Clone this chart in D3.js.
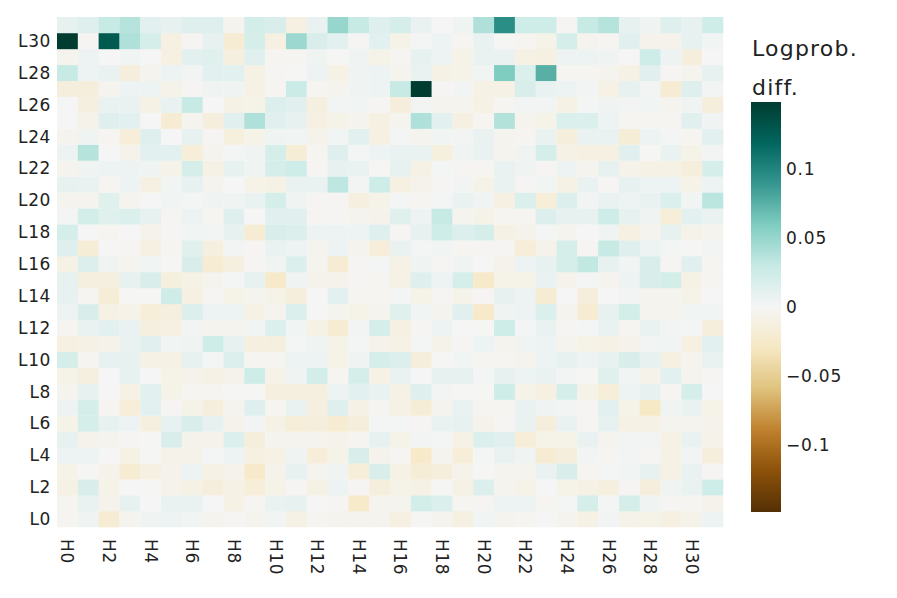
<!DOCTYPE html>
<html><head><meta charset="utf-8">
<script src="https://cdn.jsdelivr.net/npm/d3@7"></script>
<style>body{margin:0;background:#fff;} text{font-family:"DejaVu Sans",sans-serif;fill:#222;}</style>
</head><body><svg id="c" width="897" height="598"></svg>
<script>
const heads = d3.range(32).map(i => "H" + i);
const layers = d3.range(32).map(i => "L" + i);
const headTicks = d3.range(0, 32, 2).map(i => "H" + i);
const layerTicks = d3.range(0, 32, 2).map(i => "L" + i);
const cbTicks = [0.1, 0.05, 0, -0.05, -0.1];
const zmax = 0.149;
// rows: L0 .. L31, columns H0 .. H31
const z = [
[-0.003,0.004,-0.02,-0.004,0.004,0.006,0.003,-0.004,-0.002,-0.005,0.002,-0.01,-0.003,-0.004,-0.005,-0.005,-0.012,-0.001,-0.004,-0.012,0.003,-0.004,-0.003,0,-0.004,-0.01,0.002,-0.007,-0.008,-0.012,-0.007,0.005],
[-0.003,0.008,-0.006,0.01,0,0.008,0.008,0,-0.01,-0.003,0.008,0.01,0,-0.002,-0.025,-0.004,-0.004,0.022,0.017,-0.003,-0.002,0.006,0.006,-0.003,0.001,0.02,0.001,0.02,0.004,-0.002,-0.003,-0.006],
[-0.01,0.018,-0.008,0,-0.001,-0.006,-0.01,-0.015,-0.01,-0.017,-0.008,-0.002,-0.01,0.005,-0.002,-0.015,-0.008,-0.01,-0.001,-0.01,0.016,-0.004,-0.008,0,-0.008,-0.01,-0.013,-0.002,-0.015,0.004,0.007,0.025],
[-0.008,-0.001,-0.006,-0.02,-0.012,-0.006,0.006,-0.01,-0.006,-0.025,-0.006,0.01,-0.004,0.004,-0.017,0.018,-0.01,-0.018,-0.015,-0.007,-0.001,-0.005,-0.004,0.008,0.018,-0.003,0.001,0.003,0.01,-0.01,0.008,-0.002],
[0.005,0.005,0,-0.01,-0.001,-0.007,-0.007,0.001,0.006,-0.012,-0.01,0.004,-0.017,-0.008,0.018,-0.006,-0.002,-0.025,-0.004,-0.017,0.001,0.008,0.004,-0.02,-0.015,0.002,-0.003,0.002,-0.002,-0.01,0.002,-0.015],
[0.01,-0.006,-0.004,-0.002,-0.001,0.018,-0.006,-0.006,0.017,-0.015,-0.005,-0.005,-0.005,-0.006,-0.003,0.01,-0.008,0.002,0.001,-0.01,0.017,0.013,-0.017,-0.008,-0.008,0.008,-0.004,0.002,0.002,-0.01,0.008,-0.007],
[-0.008,0.02,0.01,0.005,-0.013,0.01,0.018,0.01,-0.006,0.002,-0.01,-0.017,-0.015,-0.02,-0.015,0.001,0.001,-0.002,0.008,0.01,-0.006,-0.002,0.008,-0.015,0.008,-0.002,0.01,-0.01,-0.01,-0.004,-0.004,-0.006],
[0.005,0.02,-0.003,-0.017,0.012,-0.002,-0.008,-0.015,-0.004,0.015,-0.003,0.008,-0.013,0.015,-0.01,-0.003,-0.01,-0.018,-0.005,0.008,-0.003,-0.003,0.008,0.004,0.002,-0.002,0.012,-0.008,-0.028,0.004,0.007,-0.008],
[-0.005,0.01,0,-0.01,0.012,-0.008,-0.003,-0.003,-0.001,-0.001,-0.013,-0.013,-0.013,0.006,0.012,0.008,-0.01,0.015,0.002,-0.001,-0.001,0.025,-0.008,-0.012,0.02,-0.008,-0.017,0.005,0.01,-0.002,0.02,0],
[-0.008,-0.013,0,0.01,0,-0.008,-0.006,-0.01,-0.006,0.025,-0.008,0.004,0.022,-0.003,0.02,-0.01,0.008,0,0.01,0.01,0.001,0.01,0.006,0.008,0.002,-0.001,0.014,0.003,-0.007,0.012,-0.004,-0.002],
[0.02,-0.003,0.01,0.01,-0.01,-0.01,0.01,0.001,0.016,-0.003,-0.003,0.006,0.005,-0.008,0.004,0.02,0.016,-0.015,-0.001,0.003,-0.003,-0.003,-0.004,0.006,0.01,0.005,0.01,0.018,0.01,-0.012,-0.005,0.008],
[-0.012,-0.01,-0.007,0.008,0.013,0.003,0.004,0.025,0.01,-0.013,-0.013,0.001,0.004,-0.008,0.001,-0.006,-0.01,0.001,-0.007,-0.002,0.006,-0.004,0.004,0.006,-0.004,-0.008,-0.01,-0.006,0.002,0.003,-0.012,0.012],
[-0.003,0.008,0.012,0.008,-0.013,-0.012,0.002,-0.004,-0.005,0.002,0.017,0.003,-0.01,-0.02,0.002,0.02,-0.012,-0.002,0.006,0,-0.001,0.025,0.001,0.008,-0.002,0.001,0.008,-0.003,0.008,0.002,0.001,-0.015],
[0.006,0.018,-0.01,-0.008,-0.017,-0.013,0.016,0.006,0.006,-0.01,-0.004,0.017,0,-0.005,-0.008,-0.004,0.014,0.003,-0.004,0.013,-0.025,0.004,0.006,0.017,-0.004,-0.02,0.01,0.022,-0.005,-0.005,0.003,0.003],
[0.01,-0.003,-0.018,-0.001,-0.001,0.024,-0.012,-0.002,-0.008,-0.005,-0.008,-0.015,0,0.012,-0.003,-0.003,0.001,-0.008,-0.002,-0.007,-0.002,0.01,0.006,-0.02,0,-0.015,0,0.002,-0.005,-0.005,-0.008,0],
[0.01,-0.013,-0.013,0.01,0.018,-0.014,-0.01,-0.004,0.001,0.01,-0.025,0.004,-0.006,-0.006,-0.002,-0.003,-0.01,0.015,0.005,0.02,-0.025,-0.008,-0.008,0.008,-0.006,0.001,-0.004,0.005,0.018,0.022,-0.01,-0.003],
[-0.01,0.016,0.004,-0.005,0.003,-0.001,0.018,-0.02,-0.013,-0.002,0.004,0.017,-0.004,-0.02,-0.002,0.001,-0.01,0.004,-0.002,0.004,0,-0.006,0.006,0.01,0.02,0.032,0.01,0.003,0.018,-0.002,0.013,-0.003],
[0.015,-0.018,0,-0.002,-0.012,-0.003,0.014,-0.013,0.002,-0.002,0.007,0.005,-0.004,0.006,-0.004,-0.016,0.008,0.001,0.003,-0.003,-0.002,-0.002,-0.017,-0.006,0.02,-0.002,0.03,0.015,0.006,0.001,-0.001,0.002],
[0.02,0,-0.003,0,-0.006,-0.002,0.003,0.002,0.01,-0.02,0.018,0.016,0.006,0.006,0.005,0.015,-0.002,0.01,0.025,0.016,0.02,-0.01,-0.006,0.001,-0.004,0,0.004,-0.012,-0.005,0.01,-0.007,-0.004],
[0.001,0.022,0.014,0.017,0.01,-0.002,0.006,-0.003,0.015,0,0.013,0.013,-0.002,-0.002,-0.004,-0.006,0.014,0.005,0.03,-0.005,-0.008,-0.003,-0.003,0.016,0.01,0.01,0.025,0.01,0.004,-0.017,0.012,0.008],
[-0.004,-0.004,0.014,-0.005,0,0.003,0.001,0.004,0.004,0.008,0.02,0.004,-0.002,-0.002,-0.013,-0.008,0.001,-0.003,0.001,0.008,0.004,-0.012,0.017,-0.017,0.016,0.002,0.007,0.005,0.008,0.017,0.003,0.035],
[0.01,0.008,-0.003,0.006,-0.012,0.003,0.01,-0.005,0,-0.008,-0.01,0.008,0.008,0.033,0.002,0.025,-0.012,-0.006,-0.002,0.002,-0.008,0.007,-0.002,0.003,-0.01,0.008,-0.002,0.01,0.006,0.006,-0.008,0.006],
[-0.005,0.004,0.006,0.006,0.004,-0.007,0.02,-0.01,0.01,0.004,0.02,0.025,-0.002,0.01,0.007,-0.001,0.01,-0.01,0.001,-0.002,-0.003,0.008,0.004,-0.002,0.006,-0.004,0.01,-0.007,-0.01,-0.01,-0.015,0.02],
[0.006,0.037,0,-0.006,0.012,0.012,-0.017,-0.004,0.001,0.004,0.02,-0.018,-0.003,0.015,0.001,0.006,0.008,0.008,-0.014,0.004,0.008,-0.005,0.004,0.02,-0.01,-0.012,-0.012,0.013,-0.001,0.008,-0.008,0.002],
[-0.004,0.004,-0.003,-0.017,0.015,0,0.009,-0.002,-0.014,-0.008,0.004,0.003,-0.006,0.003,0.012,-0.012,0.001,-0.005,0.003,0.002,0.008,-0.004,-0.003,0.008,-0.015,0.008,0.007,-0.018,0.006,0.001,-0.003,0.012],
[0,-0.007,0.015,0.012,0,-0.02,-0.004,-0.015,0.013,0.04,0.013,0.01,-0.012,-0.008,-0.005,-0.012,-0.005,0.04,0.012,-0.012,-0.003,0.038,-0.005,-0.008,0.017,0.017,0.005,-0.003,-0.003,-0.003,0.013,0.004],
[0,-0.013,0.008,0.008,-0.01,0.008,0.03,0,-0.01,-0.008,0.016,0.013,-0.013,0.002,0.003,-0.002,-0.015,0.002,-0.005,-0.005,-0.01,-0.003,0.002,0.002,-0.01,0.001,0.004,0.002,0.003,-0.004,0.004,-0.015],
[-0.015,-0.015,-0.005,0.006,0.005,-0.007,-0.002,0.004,0.004,-0.01,-0.003,0.027,-0.003,-0.005,0.004,0.006,0.03,0.149,-0.002,0.002,-0.01,-0.01,0.018,0.008,0.006,0.002,-0.01,0.01,0.002,-0.02,0.015,0.002],
[0.03,0.005,0.007,-0.015,-0.005,0.006,0.002,0.012,0.012,-0.01,-0.002,-0.001,0.005,-0.01,0.004,0.005,-0.004,0.008,-0.01,-0.008,0.003,0.06,0.017,0.076,-0.003,-0.003,-0.004,-0.01,0.013,-0.002,-0.004,0.01],
[-0.005,0.006,0,0.003,0,-0.012,0.012,0.014,-0.013,0.013,-0.003,-0.003,0.004,-0.001,0.004,-0.008,-0.003,0.01,0.005,-0.008,0.008,0.008,-0.01,-0.012,0.005,0.005,0.004,0,0.025,0.005,-0.015,0],
[0.149,-0.002,0.128,0.04,0.02,-0.012,-0.002,0.01,-0.02,0.02,-0.012,0.048,0.018,0.012,-0.002,0.012,-0.008,0.001,0.005,-0.003,0.007,-0.001,-0.003,-0.008,0.02,-0.004,-0.003,0.013,-0.006,-0.006,0.01,0.003],
[0.01,0.015,0.03,0.037,0.012,0.01,0.015,0.015,-0.004,0.022,0.018,-0.012,0.008,0.05,0.03,0.015,0.02,0.008,0,0.004,0.04,0.095,0.025,0.025,-0.002,0.03,0.037,0.01,0.004,0.015,0.01,0.025]
];
const brbg = ["#543005","#8c510a","#bf812d","#dfc27d","#f6e8c3","#f5f5f5","#c7eae5","#80cdc1","#35978f","#01665e","#003c30"];

const svg = d3.select("#c");
const L = 57, R = 723, T = 17, B = 527;
const x = d3.scaleBand().domain(heads).range([L, R]);
const y = d3.scaleBand().domain(layers).range([B, T]);
const color = d3.scaleLinear().domain(d3.range(11).map(i => -zmax + i * zmax / 5)).range(brbg).interpolate(d3.interpolateRgb).clamp(true);

const cells = [];
z.forEach((row, i) => row.forEach((v, j) => cells.push({l: layers[i], h: heads[j], v})));
svg.append("g").selectAll("rect").data(cells).join("rect")
  .attr("x", d => x(d.h)).attr("y", d => y(d.l))
  .attr("width", x.bandwidth() + 0.3).attr("height", y.bandwidth() + 0.3)
  .attr("fill", d => color(d.v));

// y axis labels
svg.append("g").selectAll("text").data(layerTicks).join("text")
  .attr("x", L - 6).attr("y", d => y(d) + y.bandwidth() / 2)
  .attr("text-anchor", "end").attr("dominant-baseline", "central")
  .style("font-size", "17px").style("letter-spacing", "0.6px").text(d => d);
// x axis labels
svg.append("g").selectAll("text").data(headTicks).join("text")
  .attr("transform", d => `translate(${x(d) + x.bandwidth() / 2},${B + 12}) rotate(90)`)
  .attr("text-anchor", "start").attr("dominant-baseline", "central")
  .style("font-size", "17px").style("letter-spacing", "0.6px").text(d => d);

// colorbar
const cbX = 751, cbW = 30, cbT = 102, cbB = 512;
const cy = d3.scaleLinear().domain([-zmax, zmax]).range([cbB, cbT]);
const defs = svg.append("defs");
const grad = defs.append("linearGradient").attr("id", "g").attr("x1", 0).attr("y1", 1).attr("x2", 0).attr("y2", 0);
brbg.forEach((c, i) => grad.append("stop").attr("offset", i / 10).attr("stop-color", c));
svg.append("rect").attr("x", cbX).attr("y", cbT).attr("width", cbW).attr("height", cbB - cbT).attr("fill", "url(#g)");
svg.append("g").selectAll("text").data(cbTicks).join("text")
  .attr("x", cbX + cbW + 5).attr("y", d => cy(d))
  .attr("dominant-baseline", "central").style("font-size", "17px").style("letter-spacing", "0.8px")
  .text(d => d3.format("~g")(d).replace("-", "\u2212"));
svg.append("text").attr("x", cbX + 1).attr("y", 56).style("font-size", "22px").style("letter-spacing", "1.2px").text("Logprob.");
svg.append("text").attr("x", cbX + 1).attr("y", 95).style("font-size", "22px").style("letter-spacing", "1.2px").text("diff.");
</script></body></html>
